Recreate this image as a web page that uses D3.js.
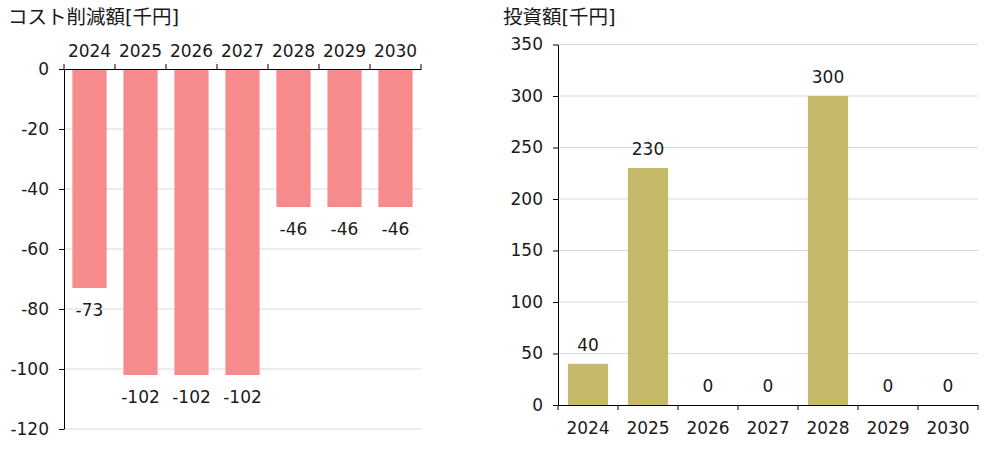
<!DOCTYPE html>
<html>
<head>
<meta charset="utf-8">
<script src="https://cdn.jsdelivr.net/npm/d3@7"></script>
<style>
body{margin:0;background:#fff;}
text{font-family:"DejaVu Sans","Noto Sans CJK JP",sans-serif;fill:#1a1a1a;}
.axis path,.axis line{stroke:#000;}
.grid line{stroke:#d9d9d9;}
</style>
</head>
<body>
<div id="plot"></div>
<script>
var years = ['2024','2025','2026','2027','2028','2029','2030'];
var costCut = [-73,-102,-102,-102,-46,-46,-46];
var invest = [40,230,0,0,300,0,0];
var costTicks = [0,-20,-40,-60,-80,-100,-120];
var investTicks = [0,50,100,150,200,250,300,350];

var svg = d3.select('#plot').append('svg')
	.attr('width',994)
	.attr('height',449);

var fs = 17;
var plain = function(d){return String(d);}; //keep hyphen minus like the original

//left chart : cost reduction
var x1 = d3.scaleBand().domain(years).range([64,421]).paddingInner(0.33).paddingOuter(0.165);
var y1 = d3.scaleLinear().domain([0,-120]).range([69,429]);

svg.append('text').attr('x',8).attr('y',24).style('font-size','19.5px').text('コスト削減額[千円]');

svg.append('g').attr('class','grid')
	.selectAll('line').data(costTicks.slice(1)).enter().append('line')
	.attr('x1',64).attr('x2',421)
	.attr('y1',function(d){return y1(d);}).attr('y2',function(d){return y1(d);});

svg.append('g').selectAll('rect').data(costCut).enter().append('rect')
	.attr('x',function(d,i){return x1(years[i]);})
	.attr('y',y1(0))
	.attr('width',x1.bandwidth())
	.attr('height',function(d){return y1(d)-y1(0);})
	.style('fill','#f78a8a');

svg.append('g').selectAll('text').data(costCut).enter().append('text')
	.attr('x',function(d,i){return x1(years[i])+x1.bandwidth()/2;})
	.attr('y',function(d){return y1(d)+28;})
	.attr('text-anchor','middle')
	.style('font-size',fs+'px')
	.text(plain);

var yAxis1 = svg.append('g').attr('class','axis')
	.attr('transform','translate(64,0)')
	.call(d3.axisLeft(y1).tickValues(costTicks).tickFormat(plain).tickSize(5).tickSizeOuter(0).tickPadding(10));
yAxis1.selectAll('text').style('font-size',fs+'px');

var xAxis1 = svg.append('g').attr('class','axis')
	.attr('transform','translate(0,69)')
	.call(d3.axisTop(x1).tickSize(0).tickSizeOuter(0).tickPadding(12));
xAxis1.selectAll('text').style('font-size',fs+'px');
xAxis1.selectAll('.bound').data(d3.range(years.length+1)).enter().append('line')
	.attr('x1',function(i){return 64+i*x1.step();}).attr('x2',function(i){return 64+i*x1.step();})
	.attr('y1',0).attr('y2',-5).style('stroke','#000');

//right chart : investment
var x2 = d3.scaleBand().domain(years).range([558,978]).paddingInner(0.33).paddingOuter(0.165);
var y2 = d3.scaleLinear().domain([0,350]).range([405,44.5]);

svg.append('text').attr('x',503).attr('y',24).style('font-size','19.5px').text('投資額[千円]');

svg.append('g').attr('class','grid')
	.selectAll('line').data(investTicks.slice(1)).enter().append('line')
	.attr('x1',558).attr('x2',978)
	.attr('y1',function(d){return y2(d);}).attr('y2',function(d){return y2(d);});

svg.append('g').selectAll('rect').data(invest).enter().append('rect')
	.attr('x',function(d,i){return x2(years[i]);})
	.attr('y',function(d){return y2(d);})
	.attr('width',x2.bandwidth())
	.attr('height',function(d){return y2(0)-y2(d);})
	.style('fill','#c4ba6a');

svg.append('g').selectAll('text').data(invest).enter().append('text')
	.attr('x',function(d,i){return x2(years[i])+x2.bandwidth()/2;})
	.attr('y',function(d){return y2(d)-13;})
	.attr('text-anchor','middle')
	.style('font-size',fs+'px')
	.text(plain);

var yAxis2 = svg.append('g').attr('class','axis')
	.attr('transform','translate(558,0)')
	.call(d3.axisLeft(y2).tickValues(investTicks).tickFormat(plain).tickSize(5).tickSizeOuter(0).tickPadding(10));
yAxis2.selectAll('text').style('font-size',fs+'px');

var xAxis2 = svg.append('g').attr('class','axis')
	.attr('transform','translate(0,405)')
	.call(d3.axisBottom(x2).tickSize(0).tickSizeOuter(0).tickPadding(17));
xAxis2.selectAll('text').style('font-size',fs+'px');
xAxis2.selectAll('.bound').data(d3.range(years.length+1)).enter().append('line')
	.attr('x1',function(i){return 558+i*x2.step();}).attr('x2',function(i){return 558+i*x2.step();})
	.attr('y1',0).attr('y2',5).style('stroke','#000');
</script>
</body>
</html>
